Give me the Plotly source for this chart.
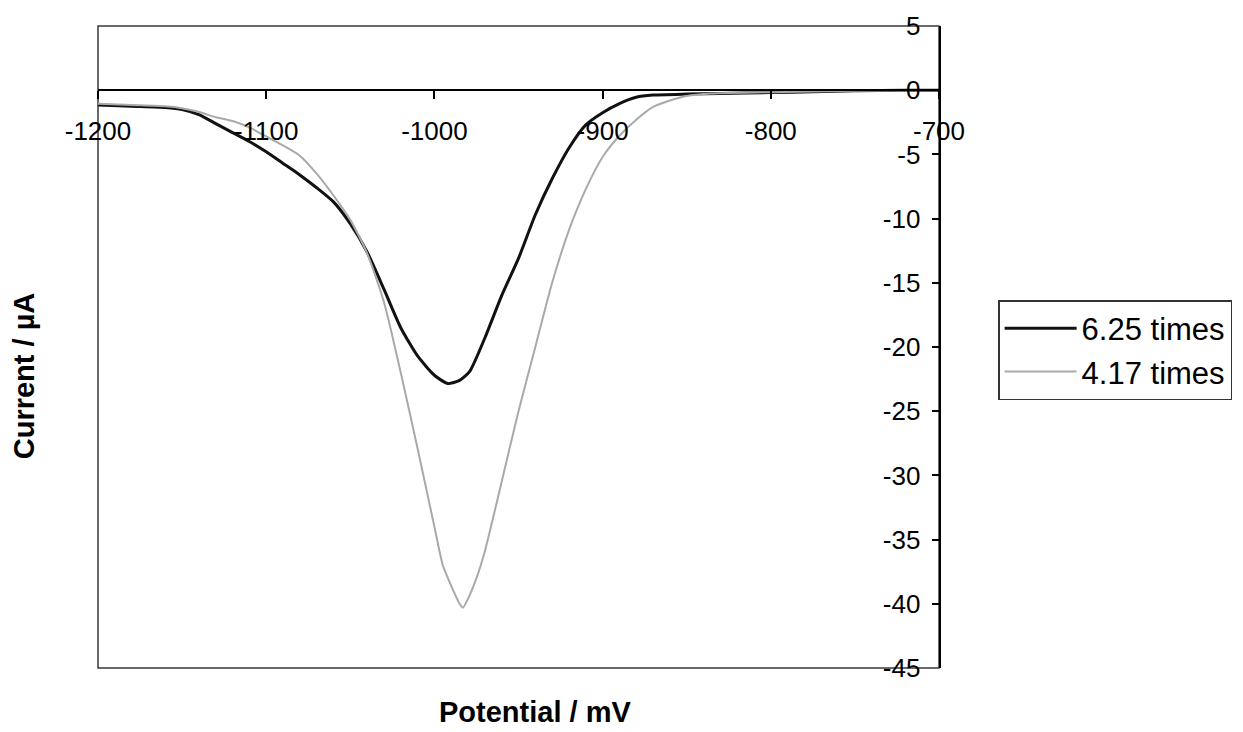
import plotly.graph_objects as go

# ---- data ----
potential_625 = [-1200, -1180, -1160, -1150, -1140, -1130, -1120, -1110, -1100, -1090, -1080,
                 -1070, -1060, -1050, -1040, -1030, -1020, -1010, -1000, -992, -985, -979,
                 -970, -960, -950, -940, -930, -920, -910, -900, -890, -880, -870, -850,
                 -830, -800, -775, -750, -720, -700]
current_625 = [-1.15, -1.25, -1.35, -1.5, -1.9, -2.6, -3.3, -4.0, -4.8, -5.7, -6.6,
               -7.6, -8.7, -10.4, -12.6, -15.5, -18.5, -20.7, -22.2, -22.85, -22.6, -21.9,
               -19.3, -16.0, -13.1, -9.7, -6.9, -4.5, -2.7, -1.75, -1.04, -0.55, -0.38, -0.3,
               -0.25, -0.18, -0.12, -0.05, 0.0, 0.0]

potential_417 = [-1200, -1180, -1160, -1150, -1140, -1130, -1120, -1110, -1100, -1090, -1080,
                 -1070, -1060, -1050, -1040, -1030, -1020, -1010, -1000, -995, -990, -985,
                 -983, -980, -975, -970, -960, -950, -940, -930, -920, -910, -900, -890,
                 -880, -870, -860, -850, -835, -800, -750, -700]
current_417 = [-1.05, -1.15, -1.25, -1.4, -1.7, -2.1, -2.4, -2.9, -3.6, -4.3, -5.1,
               -6.5, -8.2, -10.1, -12.7, -16.5, -22.0, -27.9, -34.0, -37.0, -38.6, -40.0,
               -40.3, -39.6, -38.0, -35.9, -30.5, -25.0, -20.0, -15.0, -10.9, -7.7, -5.2, -3.55,
               -2.3, -1.3, -0.8, -0.45, -0.26, -0.15, -0.05, 0.0]

series_names = ["6.25 times", "4.17 times"]

x_ticks = [-1200, -1100, -1000, -900, -800, -700]
x_ticktext = ["-1200", "-1100", "-1000", "-900", "-800", "-700"]
y_ticks = [5, 0, -5, -10, -15, -20, -25, -30, -35, -40, -45]
y_ticktext = ["5", "0", "-5", "-10", "-15", "-20", "-25", "-30", "-35", "-40", "-45"]

x_range = [-1200, -700]
y_range = [-45, 5]

FONT = "Arial, Liberation Sans, sans-serif"

fig = go.Figure()
fig.add_trace(go.Scatter(x=potential_625, y=current_625, mode="lines", name=series_names[0],
                         line=dict(color="#111111", width=3, shape="spline", smoothing=0.6)))
fig.add_trace(go.Scatter(x=potential_417, y=current_417, mode="lines", name=series_names[1],
                         line=dict(color="#a9a9a9", width=2, shape="spline", smoothing=0.6)))

# position x-axis at y = 0
x_axis_pos = (0 - y_range[0]) / (y_range[1] - y_range[0])

fig.update_layout(
    width=1243, height=732,
    margin=dict(l=98, r=303, t=26, b=64),
    paper_bgcolor="white", plot_bgcolor="white",
    font=dict(family=FONT, color="black"),
    showlegend=True,
    legend=dict(x=1.069, y=0.573, xanchor="left", yanchor="top",
                bordercolor="#333333", borderwidth=1.5, bgcolor="white",
                font=dict(size=31, family=FONT, color="black"),
                itemwidth=72, tracegroupgap=0),
    xaxis=dict(range=x_range, tickvals=x_ticks, ticktext=x_ticktext,
               anchor="free", position=x_axis_pos,
               showline=True, linecolor="black", linewidth=1.5,
               ticks="outside", ticklen=8, tickcolor="black", tickwidth=1.5,
               ticklabelstandoff=10, ticklabeloverflow="allow",
               tickfont=dict(size=26, family=FONT, color="black"),
               showgrid=False, zeroline=False),
    yaxis=dict(range=y_range, tickvals=y_ticks, ticktext=y_ticktext,
               side="right", ticklabelposition="inside", ticklabeloverflow="allow",
               ticklabelstandoff=14,
               showline=True, linecolor="black", linewidth=1.5,
               ticks="inside", ticklen=7, tickcolor="black", tickwidth=1.5,
               tickfont=dict(size=26, family=FONT, color="black"),
               showgrid=False, zeroline=False),
    shapes=[dict(type="rect", xref="paper", yref="paper", x0=0, x1=1, y0=0, y1=1,
                 line=dict(color="#3a3a3a", width=1.5), layer="below")],
    annotations=[
        dict(text="<b>Potential / mV</b>", xref="paper", yref="paper",
             x=0.52, y=-0.0685, xanchor="center", yanchor="middle", showarrow=False,
             font=dict(size=29, family=FONT, color="black")),
        dict(text="<b>Current / µA</b>", xref="paper", yref="paper",
             x=-0.088, y=0.456, xanchor="center", yanchor="middle", showarrow=False,
             textangle=-90, font=dict(size=29, family=FONT, color="black")),
    ],
)

fig.write_html("out.html")
